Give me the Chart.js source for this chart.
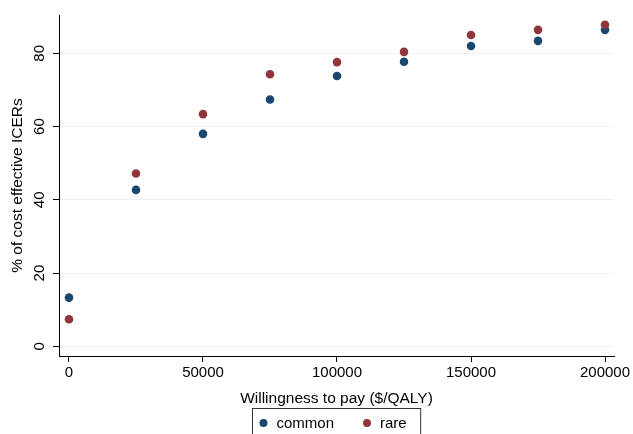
<!DOCTYPE html>
<html>
<head>
<meta charset="utf-8">
<script src="https://cdn.jsdelivr.net/npm/chart.js@4"></script>
<style>
  html, body { margin: 0; padding: 0; background: #fff; }
  #wrap { width: 633px; height: 434px; }
</style>
</head>
<body>
<div id="wrap"><canvas id="grafico"></canvas></div>
<script>
const wtp = [0, 25000, 50000, 75000, 100000, 125000, 150000, 175000, 200000];
const common = [13.3, 42.7, 58.0, 67.4, 73.8, 77.7, 82.0, 83.4, 86.4];
const rare = [7.4, 47.2, 63.4, 74.3, 77.6, 80.4, 85.0, 86.4, 87.8];
const xTicks = [0, 50000, 100000, 150000, 200000];
const yTicks = [0, 20, 40, 60, 80];

const FONT = "'Liberation Sans', Arial, sans-serif";
const corCommon = "#1a476f";
const corRare = "#90353b";

const toPoints = (ys) => wtp.map((x, i) => ({ x: x, y: ys[i] }));

// y tick labels are drawn rotated, like Stata does
const rotatedYTicks = {
  id: "rotatedYTicks",
  afterDraw(chart) {
    const ctx = chart.ctx;
    const y = chart.scales.y;
    ctx.save();
    ctx.font = "15px " + FONT;
    ctx.fillStyle = "#000";
    ctx.textAlign = "center";
    ctx.textBaseline = "middle";
    yTicks.forEach(v => {
      ctx.save();
      ctx.translate(40, y.getPixelForValue(v));
      ctx.rotate(-Math.PI / 2);
      ctx.fillText(String(v), 0, 0);
      ctx.restore();
    });
    ctx.restore();
  }
};

// legend with a box around it, below the x title
const boxLegend = {
  id: "boxLegend",
  afterDraw(chart) {
    const ctx = chart.ctx;
    const area = chart.chartArea;
    ctx.save();
    ctx.font = "15px " + FONT;
    const items = chart.data.datasets.map(d => ({ label: d.label, color: d.backgroundColor, w: ctx.measureText(d.label).width }));
    const padL = 11, dotGap = 13, itemGap = 33, padR = 14;
    let total = padL + padR;
    items.forEach((it, i) => { total += dotGap + it.w + (i < items.length - 1 ? itemGap : 0); });
    const left = Math.round((area.left + area.right) / 2 - total / 2) + 0.5;
    const top = 408.5;
    ctx.strokeStyle = "#333";
    ctx.lineWidth = 1;
    ctx.strokeRect(left, top, total, 40);
    let x = left + padL;
    const cy = 423;
    ctx.textBaseline = "middle";
    ctx.textAlign = "left";
    items.forEach(it => {
      ctx.fillStyle = it.color;
      ctx.beginPath();
      ctx.arc(x, cy, 4, 0, Math.PI * 2);
      ctx.fill();
      ctx.fillStyle = "#000";
      ctx.fillText(it.label, x + dotGap, cy + 1);
      x += dotGap + it.w + itemGap;
    });
    ctx.restore();
  }
};

new Chart(document.getElementById("grafico"), {
  type: "scatter",
  data: {
    datasets: [
      { label: "common", data: toPoints(common), backgroundColor: corCommon, borderWidth: 0, pointRadius: 4.3, order: 1 },
      { label: "rare", data: toPoints(rare), backgroundColor: corRare, borderWidth: 0, pointRadius: 4.3, order: 0 }
    ]
  },
  options: {
    responsive: true,
    maintainAspectRatio: false,
    animation: false,
    layout: { padding: { top: 15, right: 19, bottom: 26, left: 0 } },
    plugins: {
      legend: { display: false },
      tooltip: { enabled: false }
    },
    scales: {
      x: {
        type: "linear",
        min: -3731,
        max: 203358,
        afterBuildTicks: (s) => { s.ticks = xTicks.map(v => ({ value: v })); },
        afterFit: (s) => { s.height = 52; },
        border: { color: "#000", width: 1 },
        grid: { drawOnChartArea: false, tickLength: 6, tickColor: "#000" },
        ticks: { font: { family: FONT, size: 15 }, color: "#000", padding: 2, maxRotation: 0, callback: v => String(v) },
        title: { display: true, text: "Willingness to pay ($/QALY)", font: { family: FONT, size: 15.5 }, color: "#000", padding: 0 }
      },
      y: {
        type: "linear",
        min: -2.65,
        max: 90.46,
        afterBuildTicks: (s) => { s.ticks = yTicks.map(v => ({ value: v })); },
        afterFit: (s) => { s.width = 59; },
        border: { color: "#000", width: 1 },
        grid: { color: "#eaf2f3", tickLength: 6, tickColor: "#000" },
        ticks: { display: false },
        title: { display: true, text: "% of cost effective ICERs", font: { family: FONT, size: 15.5 }, color: "#000", padding: { top: 8, bottom: 0 } }
      }
    }
  },
  plugins: [rotatedYTicks, boxLegend]
});
</script>
</body>
</html>
